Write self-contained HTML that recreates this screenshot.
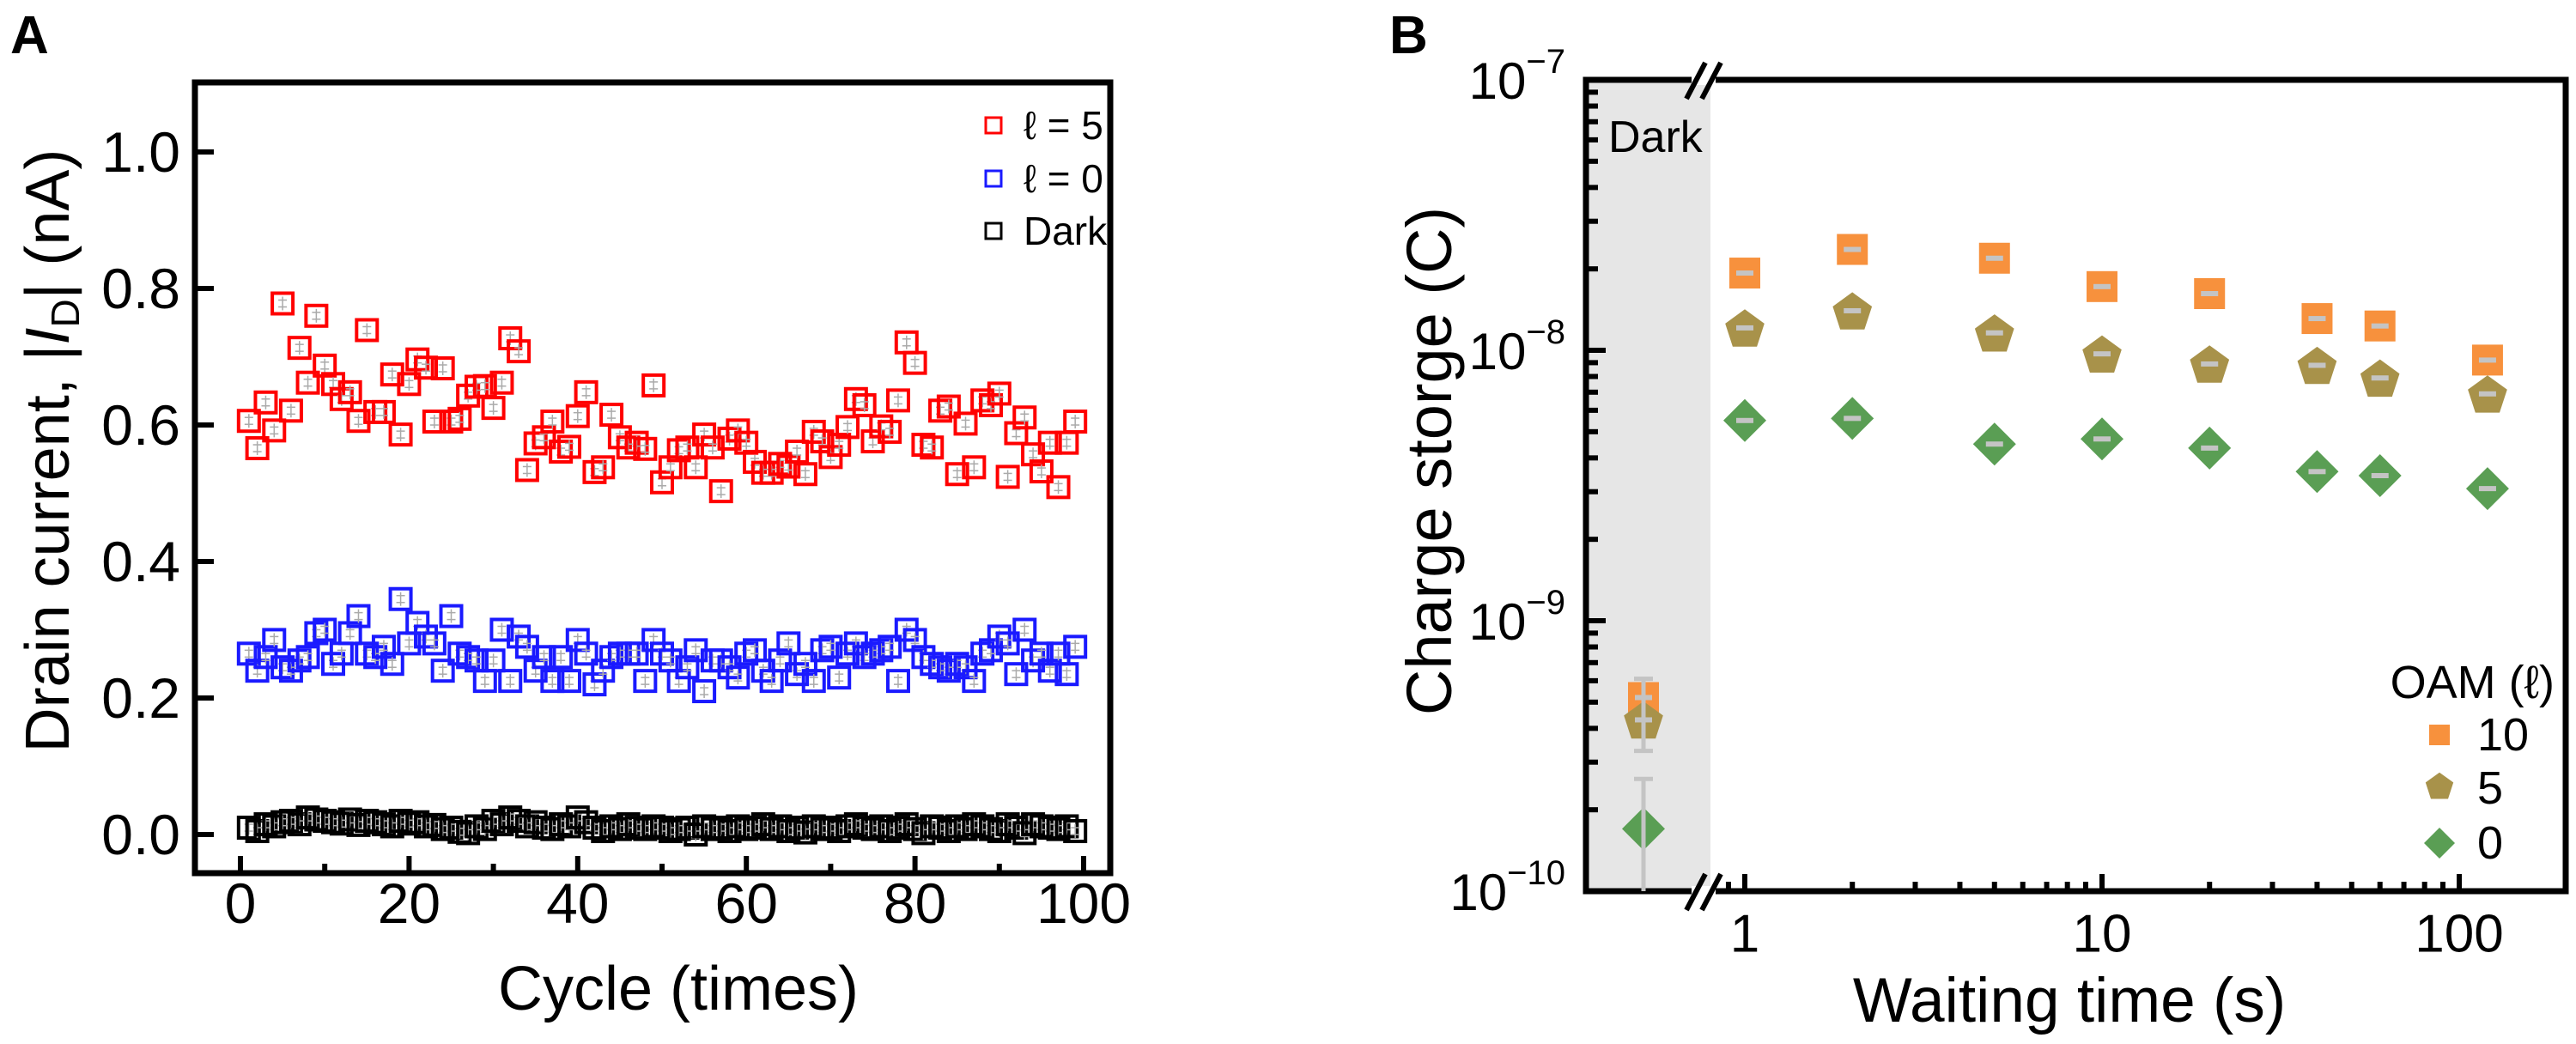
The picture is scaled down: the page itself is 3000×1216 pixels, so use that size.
<!DOCTYPE html>
<html><head><meta charset="utf-8"><style>
html,body{margin:0;padding:0;background:#fff;}
svg{display:block;font-family:"Liberation Sans",Arial,sans-serif;}
</style></head><body>
<svg id="fig" width="3000" height="1216" viewBox="0 0 3000 1216" xmlns="http://www.w3.org/2000/svg">
<text x="12" y="62" font-size="62" font-weight="bold">A</text>
<text x="1618" y="62" font-size="62" font-weight="bold">B</text>
<g id="pa"></g>
<g id="pb"></g>
</svg>
<script>
// ---------- Panel A data ----------
const cyclesA = Array.from({length: 99}, (_, i) => i + 1);
const redL5 = [0.606,0.566,0.633,0.592,0.778,0.621,0.713,0.662,0.760,0.687,0.660,0.638,0.648,0.606,0.739,0.619,0.619,0.674,0.586,0.660,0.696,0.684,0.605,0.683,0.605,0.609,0.643,0.656,0.657,0.625,0.662,0.727,0.708,0.534,0.573,0.582,0.605,0.561,0.568,0.613,0.648,0.531,0.538,0.615,0.582,0.567,0.574,0.565,0.658,0.516,0.538,0.563,0.567,0.538,0.586,0.567,0.503,0.580,0.592,0.574,0.546,0.530,0.530,0.543,0.539,0.561,0.528,0.590,0.576,0.553,0.571,0.597,0.638,0.629,0.576,0.598,0.590,0.636,0.721,0.691,0.571,0.567,0.621,0.627,0.528,0.602,0.538,0.636,0.629,0.646,0.524,0.588,0.611,0.557,0.532,0.574,0.509,0.574,0.605];
const blueL0 = [0.265,0.24,0.26,0.285,0.245,0.24,0.255,0.26,0.295,0.3,0.25,0.265,0.295,0.32,0.265,0.26,0.275,0.25,0.345,0.28,0.31,0.29,0.28,0.24,0.32,0.265,0.26,0.255,0.225,0.255,0.3,0.225,0.29,0.275,0.24,0.26,0.225,0.26,0.225,0.285,0.265,0.22,0.24,0.26,0.265,0.265,0.265,0.225,0.285,0.265,0.255,0.225,0.245,0.27,0.21,0.255,0.255,0.245,0.23,0.265,0.27,0.24,0.225,0.255,0.28,0.235,0.25,0.225,0.27,0.275,0.23,0.265,0.28,0.26,0.265,0.27,0.275,0.225,0.3,0.285,0.26,0.25,0.245,0.24,0.25,0.245,0.225,0.265,0.27,0.29,0.28,0.235,0.3,0.255,0.265,0.24,0.265,0.235,0.275];
const darkA = [0.01,0.005,0.015,0.012,0.018,0.02,0.015,0.025,0.022,0.02,0.018,0.016,0.022,0.014,0.02,0.018,0.015,0.012,0.02,0.016,0.018,0.012,0.014,0.008,0.01,0.004,0.002,0.012,0.008,0.02,0.015,0.025,0.02,0.012,0.018,0.01,0.008,0.015,0.012,0.025,0.018,0.01,0.005,0.012,0.008,0.015,0.01,0.008,0.012,0.01,0.005,0.008,0.01,0.0,0.012,0.008,0.01,0.005,0.012,0.008,0.01,0.015,0.008,0.012,0.005,0.01,0.003,0.012,0.008,0.01,0.005,0.012,0.015,0.01,0.008,0.012,0.005,0.01,0.015,0.008,0.002,0.012,0.01,0.005,0.012,0.008,0.015,0.012,0.008,0.005,0.015,0.01,0.002,0.015,0.012,0.01,0.008,0.012,0.005];
const xTicksA = [0,20,40,60,80,100];
const xMinorA = [10,30,50,70,90];
const yTicksA = [0.0,0.2,0.4,0.6,0.8,1.0];
const yTickLabelsA = ["0.0","0.2","0.4","0.6","0.8","1.0"];

// ---------- Panel B data ----------
const timesB = [1,2,5,10,20,40,60,120];
const oam10 = [1.93e-8,2.36e-8,2.19e-8,1.72e-8,1.62e-8,1.31e-8,1.23e-8,9.2e-9];
const oam5 = [1.21e-8,1.40e-8,1.16e-8,9.7e-9,8.9e-9,8.8e-9,7.9e-9,6.9e-9];
const oam0 = [5.5e-9,5.6e-9,4.5e-9,4.7e-9,4.35e-9,3.56e-9,3.44e-9,3.08e-9];
const darkB = [5.2e-10,4.3e-10,1.7e-10];
const darkErrTop = [6.1e-10,6.1e-10,2.6e-10];
const darkErrBottom = [3.3e-10,3.3e-10,1e-10];
const xTicksB = [1,10,100];
const xMinorB = [0.9,2,3,4,5,6,7,8,9,20,30,40,50,60,70,80,90];
const yExpB = [-7,-8,-9,-10];

const NS = "http://www.w3.org/2000/svg";
function mk(parent, tag, attrs, text){
  const e = document.createElementNS(NS, tag);
  for (const k in attrs) e.setAttribute(k, attrs[k]);
  if (text !== undefined) e.textContent = text;
  parent.appendChild(e);
  return e;
}

// ---------- Panel A ----------
(function(){
  const g = document.getElementById('pa');
  const L=227,R=1293,T=96,B=1017;
  const xA = c => 280 + (c - 0) * (1262 - 280) / 100;
  const yA = v => 972 - v * (972 - 177);
  xTicksA.forEach(t=>{
    const l = mk(g,'line',{x1:xA(t),x2:xA(t),y1:B,y2:B-20,stroke:'#000','stroke-width':6});
    
    
    const tx = mk(g,'text',{x:xA(t),y:1052,'font-size':66,'text-anchor':'middle','dominant-baseline':'central'},String(t));
    
    
  });
  xMinorA.forEach(t=>{
    const l = mk(g,'line',{x1:xA(t),x2:xA(t),y1:B,y2:B-11,stroke:'#000','stroke-width':6});
    
    
  });
  yTicksA.forEach((t,i)=>{
    const l = mk(g,'line',{x1:L,x2:L+22,y1:yA(t),y2:yA(t),stroke:'#000','stroke-width':6});
    
    
    const tx = mk(g,'text',{x:210,y:yA(t),'font-size':66,'text-anchor':'end','dominant-baseline':'central'},yTickLabelsA[i]);
    
    
  });
  function sq(cx,cy,color,name){
    const grp = mk(g,'g',{});
    
    
    mk(grp,'line',{x1:cx,x2:cx,y1:cy-8,y2:cy+8,stroke:'#aaa','stroke-width':1.5});
    mk(grp,'line',{x1:cx-5,x2:cx+5,y1:cy-4,y2:cy-4,stroke:'#aaa','stroke-width':1.5});
    mk(grp,'line',{x1:cx-5,x2:cx+5,y1:cy+4,y2:cy+4,stroke:'#aaa','stroke-width':1.5});
    mk(grp,'rect',{x:cx-12,y:cy-12,width:24,height:24,fill:'none',stroke:color,'stroke-width':4});
  }
  darkA.forEach((v,i)=>sq(xA(cyclesA[i]),yA(v),'#000','dark-point'));
  blueL0.forEach((v,i)=>sq(xA(cyclesA[i]),yA(v),'#1a1aff','l0-point'));
  redL5.forEach((v,i)=>sq(xA(cyclesA[i]),yA(v),'#ff0000','l5-point'));
  const fr = mk(g,'rect',{x:L,y:T,width:R-L,height:B-T,fill:'none',stroke:'#000','stroke-width':7});
  
  
  const leg = [['#ff0000','ℓ = 5',146],['#1a1aff','ℓ = 0',208],['#000','Dark',269]];
  leg.forEach(([c,t,y])=>{
    const r = mk(g,'rect',{x:1148,y:y-9,width:18,height:18,fill:'none',stroke:c,'stroke-width':3});
    
    
    const tx = mk(g,'text',{x:1192,y:y,'font-size':46,'dominant-baseline':'central'},t);
    
    
  });
  const xt = mk(g,'text',{x:790,y:1176,'font-size':72,'text-anchor':'middle'},'Cycle (times)');
  
  
  const yt = mk(g,'text',{x:0,y:0,'font-size':72,'text-anchor':'middle',transform:'translate(80,525) rotate(-90)'});
  
  
  mk(yt,'tspan',{},'Drain current, |');
  mk(yt,'tspan',{'font-style':'italic'},'I');
  mk(yt,'tspan',{'font-size':46,dy:12},'D');
  mk(yt,'tspan',{dy:-12},'| (nA)');
})();

// ---------- Panel B ----------
(function(){
  const g = document.getElementById('pb');
  const L=1847,R=2988,T=93,B=1038;
  const DEC=416;
  const xB = t => 2032 + Math.log10(t) * DEC;
  const DARKX = 1914;
  const yB = v => 93 + (-7 - Math.log10(v)) * ((1038 - 93) / 3);
  const gray = mk(g,'rect',{x:L,y:T,width:1992-L,height:B-T,fill:'#e6e6e6'});
  
  
  const dt = mk(g,'text',{x:1873,y:177,'font-size':52},'Dark');
  
  
  yExpB.forEach(e=>{
    const y = yB(Math.pow(10,e));
    const l = mk(g,'line',{x1:L,x2:L+23,y1:y,y2:y,stroke:'#000','stroke-width':6});
    
    
    const tx = mk(g,'text',{x:1823,y:y+22,'font-size':60,'text-anchor':'end'});
    
    
    mk(tx,'tspan',{},'10');
    mk(tx,'tspan',{'font-size':40,dy:-30},'−'+(-e));
    if (e > -10) {
      for (let m=2;m<=9;m++){
        const ym = yB(m*Math.pow(10,e-1));
        const lm = mk(g,'line',{x1:L,x2:L+14,y1:ym,y2:ym,stroke:'#000','stroke-width':6});
        
        
      }
    }
  });
  xTicksB.forEach(t=>{
    const l = mk(g,'line',{x1:xB(t),x2:xB(t),y1:B,y2:B-20,stroke:'#000','stroke-width':6});
    
    
    const tx = mk(g,'text',{x:xB(t),y:1088,'font-size':62,'text-anchor':'middle','dominant-baseline':'central'},String(t));
    
    
  });
  xMinorB.forEach(t=>{
    const l = mk(g,'line',{x1:xB(t),x2:xB(t),y1:B,y2:B-11,stroke:'#000','stroke-width':6});
    
    
  });
  const fpath = `M1975,${T} L${L},${T} L${L},${B} L1975,${B} M1995,${B} L${R},${B} L${R},${T} L1995,${T}`;
  const fr = mk(g,'path',{d:fpath,fill:'none',stroke:'#000','stroke-width':7});
  
  
  [[T],[B]].forEach(([y])=>{
    const br = mk(g,'g',{});
    
    
    mk(br,'rect',{x:1970,y:y-6,width:28,height:12,fill:'#fff'});
    mk(br,'line',{x1:1964,y1:y+22,x2:1986,y2:y-20,stroke:'#000','stroke-width':6});
    mk(br,'line',{x1:1982,y1:y+22,x2:2004,y2:y-20,stroke:'#000','stroke-width':6});
  });
  function square(p,cx,cy,s,name){
    const e = mk(p,'rect',{x:cx-s/2,y:cy-s/2,width:s,height:s,fill:'#f7913d'});
    
    
  }
  function pent(p,cx,cy,r,name){
    let pts=[];
    for(let k=0;k<5;k++){const a=-Math.PI/2+k*2*Math.PI/5;pts.push((cx+r*Math.cos(a)).toFixed(1)+','+(cy+r*Math.sin(a)+r*0.1).toFixed(1));}
    const e = mk(p,'polygon',{points:pts.join(' '),fill:'#a8924a'});
    
    
  }
  function diamond(p,cx,cy,r,name){
    const e = mk(p,'polygon',{points:`${cx},${cy-r} ${cx+r},${cy} ${cx},${cy+r} ${cx-r},${cy}`,fill:'#5a9e54'});
    
    
  }
  function bar(cx,cy){
    mk(g,'rect',{x:cx-10,y:cy-3,width:20,height:6,fill:'#c4c4c4'});
  }
  darkB.forEach((v,i)=>{
    const eb = mk(g,'g',{});
    
    
    mk(eb,'line',{x1:DARKX,x2:DARKX,y1:yB(darkErrTop[i]),y2:yB(darkErrBottom[i]),stroke:'#c4c4c4','stroke-width':5});
    mk(eb,'line',{x1:DARKX-11,x2:DARKX+11,y1:yB(darkErrTop[i]),y2:yB(darkErrTop[i]),stroke:'#c4c4c4','stroke-width':5});
  });
  square(g,DARKX,yB(darkB[0]),36,'dark-oam10-point');
  pent(g,DARKX,yB(darkB[1]),24,'dark-oam5-point');
  diamond(g,DARKX,yB(darkB[2]),25,'dark-oam0-point');
  mk(g,'line',{x1:DARKX,x2:DARKX,y1:yB(darkErrTop[0]),y2:yB(darkErrBottom[0]),stroke:'#c4c4c4','stroke-width':5});
  mk(g,'line',{x1:DARKX-11,x2:DARKX+11,y1:yB(darkErrBottom[0]),y2:yB(darkErrBottom[0]),stroke:'#c4c4c4','stroke-width':5});
  mk(g,'line',{x1:DARKX,x2:DARKX,y1:yB(darkErrTop[2]),y2:B,stroke:'#c4c4c4','stroke-width':5});
  bar(DARKX,yB(darkB[0])); bar(DARKX,yB(darkB[1]));
  timesB.forEach((t,i)=>{
    square(g,xB(t),yB(oam10[i]),36,'oam10-point'); bar(xB(t),yB(oam10[i]));
    pent(g,xB(t),yB(oam5[i]),24,'oam5-point'); bar(xB(t),yB(oam5[i]));
    diamond(g,xB(t),yB(oam0[i]),25,'oam0-point'); bar(xB(t),yB(oam0[i]));
  });
  const lt = mk(g,'text',{x:2975,y:813,'font-size':54,'text-anchor':'end'},'OAM (ℓ)');
  
  
  square(g,2841,856,24,'legend-marker-10');
  pent(g,2841,915,17,'legend-marker-5');
  diamond(g,2841,982,18,'legend-marker-0');
  [['10',856],['5',918],['0',982]].forEach(([t,y])=>{
    const tx = mk(g,'text',{x:2885,y:y,'font-size':54,'dominant-baseline':'central'},t);
    
    
  });
  const xt = mk(g,'text',{x:2410,y:1190,'font-size':73,'text-anchor':'middle'},'Waiting time (s)');
  
  
  const yt = mk(g,'text',{x:0,y:0,'font-size':74,'text-anchor':'middle',transform:'translate(1690,537) rotate(-90)'},'Charge storge (C)');
  
  
})();
</script>
</body></html>
